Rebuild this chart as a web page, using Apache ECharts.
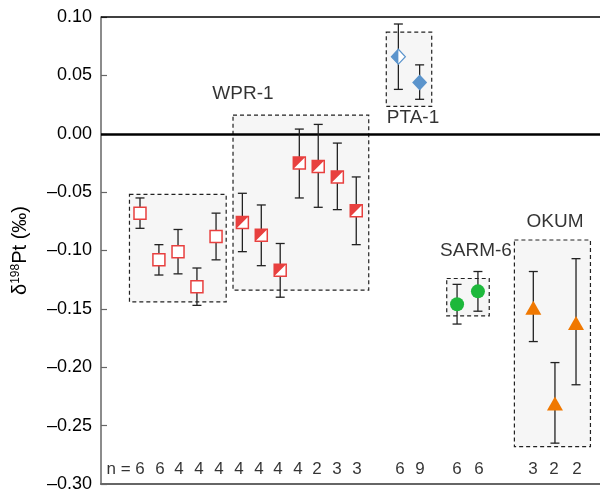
<!DOCTYPE html>
<html>
<head>
    <meta charset="utf-8">
    <title>Pt isotopes</title>
    <script src="https://cdn.jsdelivr.net/npm/echarts@6/dist/echarts.min.js"></script>
</head>
<body style="margin:0">
<div id="main" style="width:600px;height:493px;"></div>
<script type="text/javascript">
    // reference materials, x = slot along the plot, y = delta198Pt, lo/hi = error bar ends
    var squareX = [2.0, 2.97, 3.95, 4.92, 5.9];
    var squareY = [-0.068, -0.108, -0.101, -0.131, -0.088];
    var squareHi = [-0.055, -0.095, -0.082, -0.115, -0.068];
    var squareLo = [-0.081, -0.121, -0.120, -0.147, -0.108];

    var wprX = [7.25, 8.22, 9.19, 10.17, 11.14, 12.12, 13.09];
    var wprY = [-0.076, -0.087, -0.117, -0.025, -0.028, -0.037, -0.066];
    var wprHi = [-0.051, -0.061, -0.094, 0.004, 0.008, -0.008, -0.037];
    var wprLo = [-0.101, -0.113, -0.140, -0.055, -0.063, -0.065, -0.095];

    var ptaX = [15.25, 16.34];
    var ptaY = [0.066, 0.044];
    var ptaHi = [0.094, 0.059];
    var ptaLo = [0.038, 0.0295];

    var sarmX = [18.26, 19.33];
    var sarmY = [-0.146, -0.135];
    var sarmHi = [-0.129, -0.118];
    var sarmLo = [-0.163, -0.152];

    var okumX = [22.17, 23.28, 24.36];
    var okumY = [-0.149, -0.231, -0.162];
    var okumHi = [-0.118, -0.196, -0.107];
    var okumLo = [-0.178, -0.265, -0.215];

    // sample counts and where they sit along the bottom row
    var nCounts = [6, 6, 4, 4, 4, 4, 4, 4, 4, 2, 3, 3, 6, 9, 6, 6, 3, 2, 2];
    var nX = [2.0, 3.03, 4.0, 5.03, 6.05, 7.08, 8.1, 9.08, 10.1, 11.08, 12.1, 13.13,
        15.33, 16.36, 18.26, 19.38, 22.15, 23.23, 24.41];

    // dashed group boxes: [x0, x1, yTop, yBottom]
    var groupBoxes = [
        [1.46, 6.42, -0.052, -0.144],
        [6.77, 13.73, 0.016, -0.134],
        [14.63, 16.96, 0.087, 0.0235],
        [17.73, 19.91, -0.124, -0.156],
        [21.2, 25.1, -0.091, -0.268]
    ];
    var groupNames = ['WPR-1', 'PTA-1', 'SARM-6', 'OKUM'];
    var groupLabelPos = [[7.28, 0.034], [16.0, 0.014], [19.23, -0.100], [23.28, -0.075]];

    var FONT = 'Liberation Sans, Arial, Helvetica, sans-serif';
    var RED = '#e8403f';
    var BLUE = '#5b94cc';
    var GREEN = '#1db83b';
    var ORANGE = '#f07800';

    function pts(xs, ys) {
        return xs.map(function (x, i) { return [x, ys[i]]; });
    }
    function bars(xs, lo, hi) {
        return xs.map(function (x, i) { return [x, lo[i], hi[i]]; });
    }

    var allBars = bars(squareX, squareLo, squareHi).concat(
        bars(wprX, wprLo, wprHi), bars(ptaX, ptaLo, ptaHi),
        bars(sarmX, sarmLo, sarmHi), bars(okumX, okumLo, okumHi));

    var chart = echarts.init(document.getElementById('main'));

    var option = {
        animation: false,
        textStyle: {fontFamily: FONT},
        grid: {left: 101, right: 0, top: 17, bottom: 5},
        xAxis: {
            type: 'value', min: 0, max: 25.59,
            splitLine: {show: false},
            axisLabel: {show: false},
            axisTick: {show: false},
            axisLine: {show: true, onZero: false, lineStyle: {color: '#666', width: 2}}
        },
        yAxis: {
            type: 'value', min: -0.30, max: 0.10, interval: 0.05,
            splitLine: {show: false},
            axisLine: {show: true, lineStyle: {color: '#666', width: 1.5}},
            axisTick: {show: true, inside: true, length: 6, lineStyle: {color: '#666', width: 1.2}},
            axisLabel: {
                color: '#000', fontSize: 18, margin: 9, fontFamily: FONT,
                formatter: function (v) { return v.toFixed(2).replace('-', '\u2013'); }
            },
            name: '{d|δ}{s|198}{d|Pt (‰)}',
            nameLocation: 'middle',
            nameGap: 70,
            nameTextStyle: {
                rich: {
                    d: {fontSize: 20, color: '#000', fontFamily: FONT},
                    s: {fontSize: 12, color: '#000', fontFamily: FONT, verticalAlign: 'bottom', padding: [0, 0, 9, 0]}
                }
            }
        },
        series: [
            {
                type: 'custom',
                z: 1,
                silent: true,
                renderItem: function (params, api) {
                    var a = api.coord([api.value(0), api.value(2)]);
                    var b = api.coord([api.value(1), api.value(3)]);
                    return {
                        type: 'rect',
                        shape: {x: a[0], y: a[1], width: b[0] - a[0], height: b[1] - a[1]},
                        style: {fill: '#f6f6f6', stroke: '#222', lineWidth: 1.2, lineDash: [4, 3]}
                    };
                },
                data: groupBoxes,
                markLine: {
                    silent: true, symbol: 'none', z: 2,
                    label: {show: false},
                    data: [
                        {yAxis: 0, lineStyle: {color: '#000', width: 2.5, type: 'solid'}},
                        {yAxis: 0.10, lineStyle: {color: '#000', width: 1.5, type: 'solid'}}
                    ]
                }
            },
            {
                type: 'custom',
                z: 3,
                silent: true,
                renderItem: function (params, api) {
                    var p1 = api.coord([api.value(0), api.value(1)]);
                    var p2 = api.coord([api.value(0), api.value(2)]);
                    var w = 4.5;
                    var st = {stroke: '#222', lineWidth: 1.3};
                    return {
                        type: 'group',
                        children: [
                            {type: 'line', shape: {x1: p1[0], y1: p1[1], x2: p2[0], y2: p2[1]}, style: st},
                            {type: 'line', shape: {x1: p1[0] - w, y1: p1[1], x2: p1[0] + w, y2: p1[1]}, style: st},
                            {type: 'line', shape: {x1: p2[0] - w, y1: p2[1], x2: p2[0] + w, y2: p2[1]}, style: st}
                        ]
                    };
                },
                data: allBars
            },
            {
                type: 'scatter', z: 5, symbol: 'rect', symbolSize: 12,
                itemStyle: {color: '#fff', borderColor: RED, borderWidth: 1.5, opacity: 1},
                data: pts(squareX, squareY)
            },
            {
                type: 'scatter', z: 5, symbol: 'rect', symbolSize: 12,
                itemStyle: {color: '#fff', borderColor: RED, borderWidth: 1.5, opacity: 1},
                data: pts(wprX, wprY)
            },
            {
                type: 'scatter', z: 6, symbol: 'path://M0,0 L10,0 L0,10 Z', symbolSize: 12,
                itemStyle: {color: RED, opacity: 1},
                data: pts(wprX, wprY)
            },
            {
                type: 'scatter', z: 5, symbol: 'diamond', symbolSize: [14, 15],
                itemStyle: {color: '#fff', borderColor: BLUE, borderWidth: 1.2, opacity: 1},
                data: pts(ptaX.slice(0, 1), ptaY.slice(0, 1))
            },
            {
                type: 'scatter', z: 6, symbol: 'path://M5,0 L0,5 L5,10 Z', symbolSize: [7, 15], symbolOffset: [-3.5, 0],
                itemStyle: {color: BLUE, opacity: 1},
                data: pts(ptaX.slice(0, 1), ptaY.slice(0, 1))
            },
            {
                type: 'scatter', z: 5, symbol: 'diamond', symbolSize: [15, 16],
                itemStyle: {color: BLUE, opacity: 1},
                data: pts(ptaX.slice(1), ptaY.slice(1))
            },
            {
                type: 'scatter', z: 5, symbol: 'circle', symbolSize: 14,
                itemStyle: {color: GREEN, opacity: 1},
                data: pts(sarmX, sarmY)
            },
            {
                type: 'scatter', z: 5, symbol: 'triangle', symbolSize: [16, 14],
                itemStyle: {color: ORANGE, opacity: 1},
                data: pts(okumX, okumY)
            },
            {
                // group names
                type: 'scatter', z: 7, symbolSize: 0, silent: true,
                label: {
                    show: true, position: 'inside', color: '#000', fontSize: 19, fontFamily: FONT,
                    formatter: function (p) { return groupNames[p.dataIndex]; }
                },
                data: groupLabelPos
            },
            {
                // sample counts along the bottom
                type: 'scatter', z: 7, symbolSize: 0, silent: true,
                label: {
                    show: true, position: 'inside', color: '#000', fontSize: 17, fontFamily: FONT,
                    formatter: function (p) { return String(nCounts[p.dataIndex]); }
                },
                data: nX.map(function (x) { return [x, -0.2877]; })
            },
            {
                type: 'scatter', z: 7, symbolSize: 0, silent: true,
                label: {
                    show: true, position: 'left', distance: 0, color: '#000', fontSize: 17, fontFamily: FONT,
                    formatter: 'n ='
                },
                data: [[1.52, -0.2877]]
            }
        ]
    };

    chart.setOption(option);
</script>
</body>
</html>
